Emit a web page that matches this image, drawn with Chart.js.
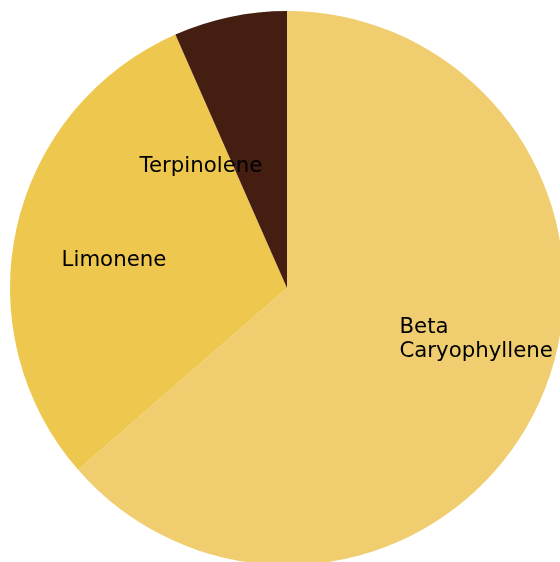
<!DOCTYPE html>
<html>
<head>
<meta charset="utf-8">
<script src="https://cdn.jsdelivr.net/npm/chart.js@4"></script>
<style>
  html, body { margin: 0; padding: 0; background: #ffffff; overflow: hidden; }
  #wrap { width: 574px; height: 576px; }
</style>
</head>
<body>
<div id="wrap"><canvas id="terpChart" width="574" height="576"></canvas></div>
<script>
// Datos del gráfico
var labels = ["Beta\nCaryophyllene", "Limonene", "Terpinolene"];
var values = [63.6, 29.8, 6.6];
var colors = ["#F0CE6F", "#EEC84E", "#451E12"];

// Etiquetas dentro de cada porción, como matplotlib (labeldistance ~0.45)
var insideLabels = {
    id: "insideLabels",
    afterDatasetsDraw: function (chart) {
        var ctx = chart.ctx;
        var meta = chart.getDatasetMeta(0);
        var fontSize = 21.3;
        ctx.save();
        ctx.font = fontSize + "px 'DejaVu Sans'";
        ctx.fillStyle = "#000000";
        ctx.textBaseline = "middle";
        meta.data.forEach(function (arc, i) {
            var p = arc.getProps(["x", "y", "startAngle", "endAngle", "outerRadius"], true);
            var mid = (p.startAngle + p.endAngle) / 2;
            var r = p.outerRadius * 0.45;
            var x = p.x + Math.cos(mid) * r;
            var y = p.y + Math.sin(mid) * r;
            var right = Math.cos(mid) > 0;
            ctx.textAlign = right ? "left" : "right";
            x += right ? -1 : 1;
            var lines = labels[i].split("\n");
            var lh = fontSize * 1.15;
            var top = y - (lines.length - 1) * lh / 2;
            lines.forEach(function (line, k) {
                ctx.fillText(line, x, top + k * lh);
            });
        });
        ctx.restore();
    }
};

var chart = document.getElementById("terpChart").getContext("2d");
new Chart(chart, {
    type: "pie",
    data: {
        labels: labels,
        datasets: [{
            data: values,
            backgroundColor: colors,
            borderWidth: 0
        }]
    },
    options: {
        responsive: false,
        animation: false,
        layout: { padding: 10 },
        plugins: {
            legend: { display: false },
            tooltip: { enabled: false }
        }
    },
    plugins: [insideLabels]
});
</script>
</body>
</html>
